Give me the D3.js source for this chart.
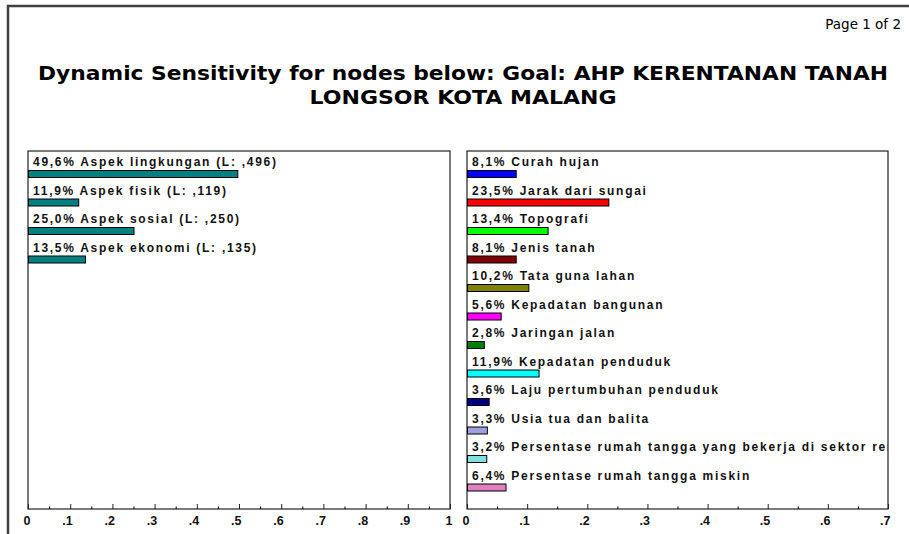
<!DOCTYPE html>
<html>
<head>
<meta charset="utf-8">
<script src="https://cdn.jsdelivr.net/npm/d3@7"></script>
<style>
  body { margin: 0; background: #fff; }
  svg { display: block; }
</style>
</head>
<body>
<div id="chart"></div>
<script>
// values
const leftNames = ["Aspek lingkungan", "Aspek fisik", "Aspek sosial", "Aspek ekonomi"];
const leftValues = [0.496, 0.119, 0.250, 0.135];

const rightNames = ["Curah hujan", "Jarak dari sungai", "Topografi", "Jenis tanah", "Tata guna lahan",
    "Kepadatan bangunan", "Jaringan jalan", "Kepadatan penduduk", "Laju pertumbuhan penduduk",
    "Usia tua dan balita", "Persentase rumah tangga yang bekerja di sektor rentan",
    "Persentase rumah tangga miskin"];
const rightValues = [0.081, 0.235, 0.134, 0.081, 0.102, 0.056, 0.028, 0.119, 0.036, 0.033, 0.032, 0.064];
const rightColors = ["#0000ff", "#ff0000", "#00ff00", "#800000", "#808000", "#ff00ff",
    "#008000", "#00ffff", "#000080", "#a0a0e0", "#80e0e0", "#e080c0"];

const leftTicks = d3.range(0, 1.0001, 0.1);
const rightTicks = d3.range(0, 0.7001, 0.1);

let width = 909, height = 534;
let rowStep = 28.5, boxTop = 151, boxBottom = 509;

let svg = d3.select("#chart").append("svg")
    .attr("width", width).attr("height", height);

// page frame
svg.append("path")
    .attr("d", "M8,534 L8,6 L909,6")
    .attr("fill", "none")
    .attr("stroke", "#404040")
    .attr("stroke-width", 2.5);

svg.append("text")
    .attr("x", 901).attr("y", 29)
    .attr("text-anchor", "end")
    .style("font-family", "DejaVu Sans")
    .style("font-size", "13.5px")
    .text("Page 1 of 2");

// title is stretched to the width it has in the picture
let title = svg.append("text")
    .attr("text-anchor", "middle")
    .style("font-family", "DejaVu Sans")
    .style("font-weight", "bold")
    .style("font-size", "19px");
title.append("tspan").attr("x", 463).attr("y", 80)
    .attr("textLength", 850).attr("lengthAdjust", "spacingAndGlyphs")
    .text("Dynamic Sensitivity for nodes below: Goal: AHP KERENTANAN TANAH");
title.append("tspan").attr("x", 463).attr("y", 104)
    .attr("textLength", 307).attr("lengthAdjust", "spacingAndGlyphs")
    .text("LONGSOR KOTA MALANG");

const fmtPct = v => (v * 100).toFixed(1).replace(".", ",") + "%";
const fmtTick = d => {
    if (Math.abs(d) < 1e-9) return "0";
    if (Math.abs(d - 1) < 1e-9) return "1";
    return d3.format(".1f")(d).replace("0.", ".");
};

function drawPanel(id, x0, x1, maxVal, ticks, names, values, colors, labelFn) {
    let x = d3.scaleLinear().domain([0, maxVal]).range([x0, x1]);
    let y = d3.scaleBand().domain(d3.range(names.length))
        .range([boxTop + 5, boxTop + 5 + rowStep * names.length]);

    let g = svg.append("g");

    g.append("clipPath").attr("id", id)
        .append("rect")
        .attr("x", x0).attr("y", boxTop)
        .attr("width", x1 - x0).attr("height", boxBottom - boxTop);

    g.append("rect")
        .attr("x", x0).attr("y", boxTop)
        .attr("width", x1 - x0).attr("height", boxBottom - boxTop)
        .attr("fill", "#fff")
        .attr("stroke", "#222")
        .attr("stroke-width", 1.2);

    // long labels run into the panel edge and are cut there, as in the source
    let rows = g.append("g").attr("clip-path", "url(#" + id + ")")
        .selectAll("g.row")
        .data(values)
        .join("g").attr("class", "row");

    rows.append("text")
        .attr("x", x0 + 5)
        .attr("y", (d, i) => y(i) + 10)
        .style("font-family", "Liberation Sans, Arial, sans-serif")
        .style("font-weight", "bold")
        .style("font-size", "12px")
        .style("letter-spacing", "1.72px")
        .attr("fill", "#111")
        .text((d, i) => labelFn(d, i));

    rows.append("rect")
        .attr("x", x(0) + 0.5)
        .attr("y", (d, i) => y(i) + 14.5)
        .attr("width", d => x(d) - x(0))
        .attr("height", 7)
        .attr("fill", (d, i) => colors[i])
        .attr("stroke", "#000")
        .attr("stroke-width", 1);

    // minor ticks every .05
    let minor = d3.range(0.05, maxVal, 0.1);
    g.append("g")
        .attr("transform", "translate(0," + boxBottom + ")")
        .call(d3.axisBottom(x).tickValues(minor).tickSize(-2.5).tickFormat(""))
        .call(a => a.select(".domain").remove());

    let axis = g.append("g")
        .attr("transform", "translate(0," + boxBottom + ")")
        .call(d3.axisBottom(x).tickValues(ticks).tickSizeInner(-5).tickSizeOuter(0).tickFormat(fmtTick))
        .call(a => a.select(".domain").remove());
    axis.selectAll("line").attr("stroke", "#222");
    axis.selectAll("text")
        .attr("text-anchor", "end")
        .attr("x", 2)
        .attr("y", 16)
        .attr("dy", null)
        .style("font-family", "Liberation Sans, Arial, sans-serif")
        .style("font-weight", "bold")
        .style("font-size", "12.5px")
        .attr("fill", "#111");
}

drawPanel("clipLeft", 28, 450, 1, leftTicks, leftNames, leftValues,
    leftValues.map(() => "#008080"),
    (d, i) => fmtPct(d) + " " + leftNames[i] + " (L: " + d3.format(".3f")(d).replace("0.", ",") + ")");

drawPanel("clipRight", 467, 888, 0.7, rightTicks, rightNames, rightValues, rightColors,
    (d, i) => fmtPct(d) + " " + rightNames[i]);
</script>
</body>
</html>
